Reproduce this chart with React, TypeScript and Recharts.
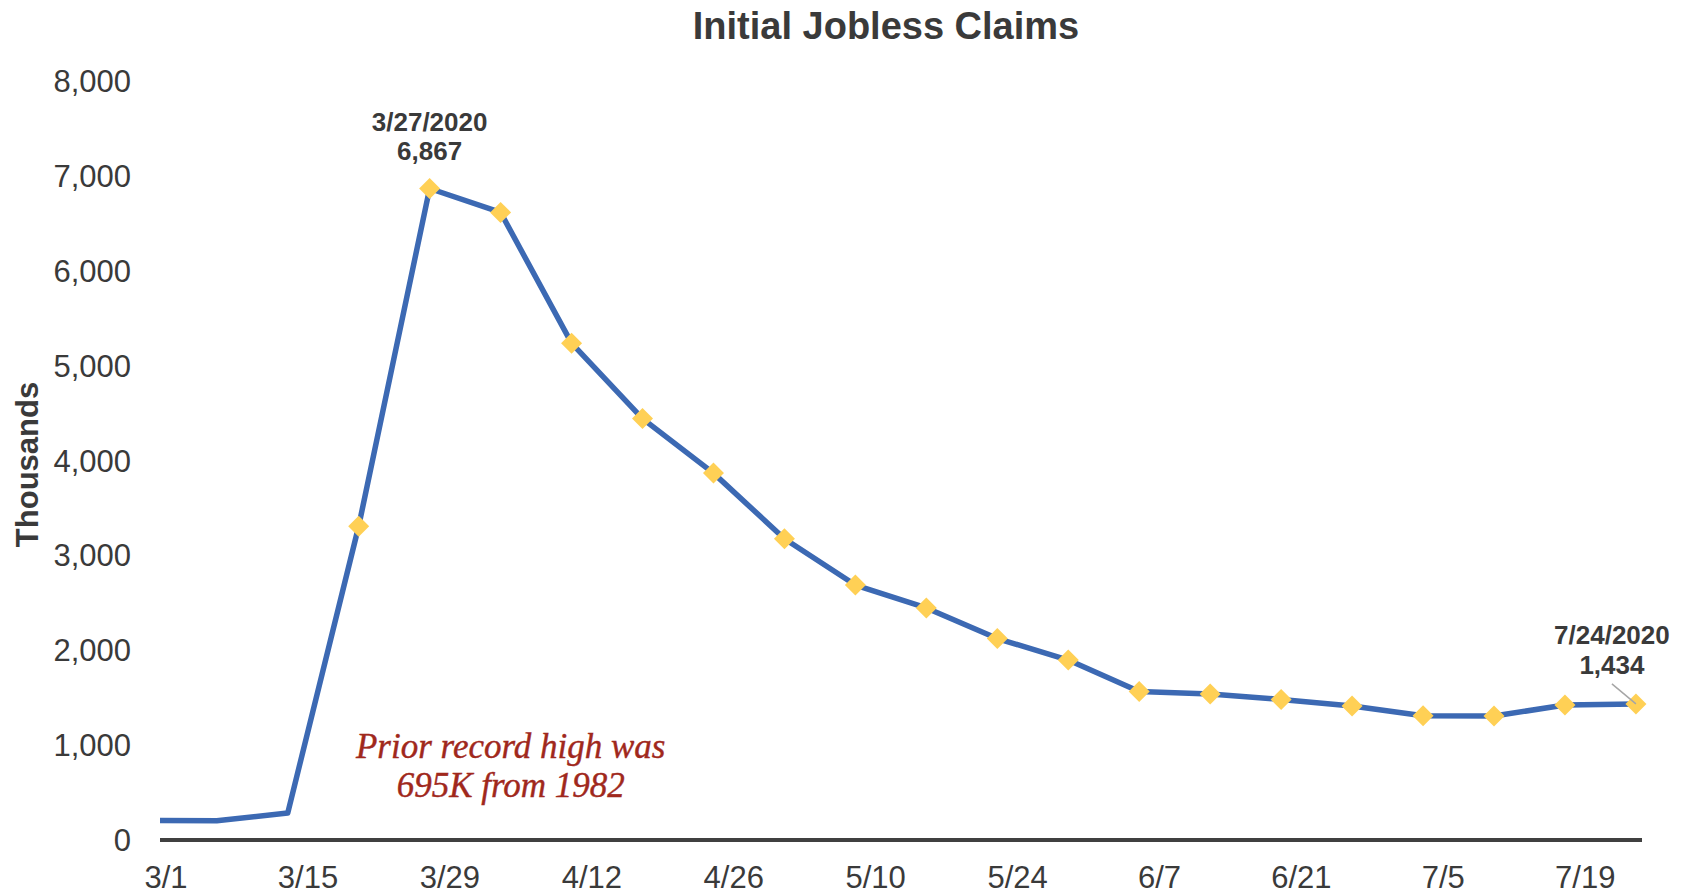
import React from 'react';
import { ComposedChart, Line, Scatter, XAxis, YAxis, ReferenceDot } from 'recharts';

// weekly initial claims, thousands (plotted on the Friday of each week)
const weekEnding = [
  '2020-02-28', '2020-03-06', '2020-03-13', '2020-03-20', '2020-03-27', '2020-04-03',
  '2020-04-10', '2020-04-17', '2020-04-24', '2020-05-01', '2020-05-08', '2020-05-15',
  '2020-05-22', '2020-05-29', '2020-06-05', '2020-06-12', '2020-06-19', '2020-06-26',
  '2020-07-03', '2020-07-10', '2020-07-17', '2020-07-24',
];
const claims = [
  206, 203, 284, 3307, 6867, 6615, 5237, 4442, 3867, 3176, 2687,
  2446, 2123, 1897, 1566, 1540, 1482, 1413, 1310, 1307, 1422, 1434,
];
const xTickLabels = ['3/1', '3/15', '3/29', '4/12', '4/26', '5/10', '5/24', '6/7', '6/21', '7/5', '7/19'];
const yTicks = [0, 1000, 2000, 3000, 4000, 5000, 6000, 7000, 8000];
const markerFrom = '2020-03-20';
const calloutDates = ['2020-03-27', '2020-07-24'];
const noteLines = ['Prior record high was', '695K from 1982'];
const noteAt = { date: '2020-04-04', claims: 860 };

const FONT = '"Liberation Sans", Arial, sans-serif';
const TEXT = '#3a3a3a';
const BASE = Date.UTC(2020, 2, 1);

const dayOf = (iso: string) => {
  const [y, m, d] = iso.split('-').map(Number);
  return (Date.UTC(y, m - 1, d) - BASE) / 86400000;
};
const tickDay = (md: string) => {
  const [m, d] = md.split('/').map(Number);
  return (Date.UTC(2020, m - 1, d) - BASE) / 86400000;
};

const data = weekEnding.map((date, i) => ({ date, day: dayOf(date), claims: claims[i] }));
const markerData = data.filter((p) => p.date >= markerFrom);
const callouts = data.filter((p) => calloutDates.includes(p.date));
const xTicks = xTickLabels.map(tickDay);
const tickLabelByDay: Record<number, string> = Object.fromEntries(xTickLabels.map((l) => [tickDay(l), l]));
const xDomain = [-0.6, 145.6];

const fmtDate = (iso: string) => {
  const [y, m, d] = iso.split('-').map(Number);
  return `${m}/${d}/${y}`;
};

const Diamond = (props: any) => {
  const { cx, cy } = props;
  const s = 10.5;
  return <path d={`M${cx},${cy - s}L${cx + s},${cy}L${cx},${cy + s}L${cx - s},${cy}Z`} fill="#FFD055" />;
};

const YTitle = (props: any) => {
  const vb = props.viewBox || {};
  const x = (vb.x ?? 0) + 27;
  const y = (vb.y ?? 81) + (vb.height ?? 759) / 2 + 4;
  return (
    <text x={x} y={y} transform={`rotate(-90 ${x} ${y})`} textAnchor="middle" dominantBaseline="central"
      fontFamily={FONT} fontSize={31} fontWeight="bold" fill={TEXT}>
      Thousands
    </text>
  );
};

const makeCallout = (p: { date: string; claims: number }, last: boolean) => (props: any) => {
  const { cx, cy } = props;
  const tx = last ? cx - 24 : cx;
  const dy1 = last ? -60 : -57;
  const dy2 = last ? -30 : -28;
  return (
    <g>
      {last && <line x1={cx - 24} y1={cy - 20} x2={cx} y2={cy} stroke="#a6a6a6" strokeWidth={1.5} />}
      <text x={tx} y={cy + dy1} textAnchor="middle" fontFamily={FONT} fontSize={26} fontWeight="bold" fill={TEXT}>
        {fmtDate(p.date)}
      </text>
      <text x={tx} y={cy + dy2} textAnchor="middle" fontFamily={FONT} fontSize={26} fontWeight="bold" fill={TEXT}>
        {p.claims.toLocaleString('en-US')}
      </text>
    </g>
  );
};

const Note = (props: any) => {
  const { cx, cy } = props;
  return (
    <g>
      {noteLines.map((t, i) => (
        <text key={t} x={cx} y={cy + i * 39} textAnchor="middle" fontFamily='"Liberation Serif", "Times New Roman", serif'
          fontStyle="italic" fontSize={35} fill="#A0281C" stroke="#A0281C" strokeWidth={0.4}>
          {t}
        </text>
      ))}
    </g>
  );
};

export default function App() {
  return (
    <div style={{ position: 'absolute', left: 0, top: 0, width: 1690, height: 896, background: '#fff' }}>
      <div style={{
        position: 'absolute', left: 0, top: 7, width: 1772, textAlign: 'center', fontFamily: FONT,
        fontSize: 38, lineHeight: '38px', fontWeight: 'bold', color: TEXT,
      }}>
        Initial Jobless Claims
      </div>
      <ComposedChart width={1690} height={896} data={data} margin={{ top: 81, right: 48, bottom: 0, left: 0 }}>
        <XAxis
          dataKey="day"
          type="number"
          domain={xDomain}
          allowDataOverflow
          ticks={xTicks}
          interval={0}
          tickFormatter={(d: number) => tickLabelByDay[d] ?? ''}
          tick={{ fill: TEXT, fontSize: 31, fontFamily: FONT }}
          tickLine={false}
          tickSize={0}
          tickMargin={26}
          height={56}
          axisLine={{ stroke: '#404040', strokeWidth: 4 }}
        />
        <XAxis xAxisId="dots" dataKey="day" type="number" domain={xDomain} hide />
        <YAxis
          dataKey="claims"
          type="number"
          domain={[0, 8000]}
          ticks={yTicks}
          interval={0}
          tickFormatter={(v: number) => v.toLocaleString('en-US')}
          tick={{ fill: TEXT, fontSize: 31, fontFamily: FONT }}
          axisLine={false}
          tickLine={false}
          tickSize={0}
          tickMargin={29}
          width={160}
          label={<YTitle />}
        />
        <Line
          type="linear"
          dataKey="claims"
          stroke="#3C69B3"
          strokeWidth={5.5}
          strokeLinejoin="round"
          dot={false}
          activeDot={false}
          isAnimationActive={false}
        />
        <Scatter xAxisId="dots" data={markerData} dataKey="claims" shape={Diamond} isAnimationActive={false} />
        {callouts.map((p, i) => (
          <ReferenceDot key={p.date} x={p.day} y={p.claims} r={0} shape={makeCallout(p, i === callouts.length - 1)} />
        ))}
        <ReferenceDot x={dayOf(noteAt.date)} y={noteAt.claims} r={0} shape={Note} />
      </ComposedChart>
    </div>
  );
}
